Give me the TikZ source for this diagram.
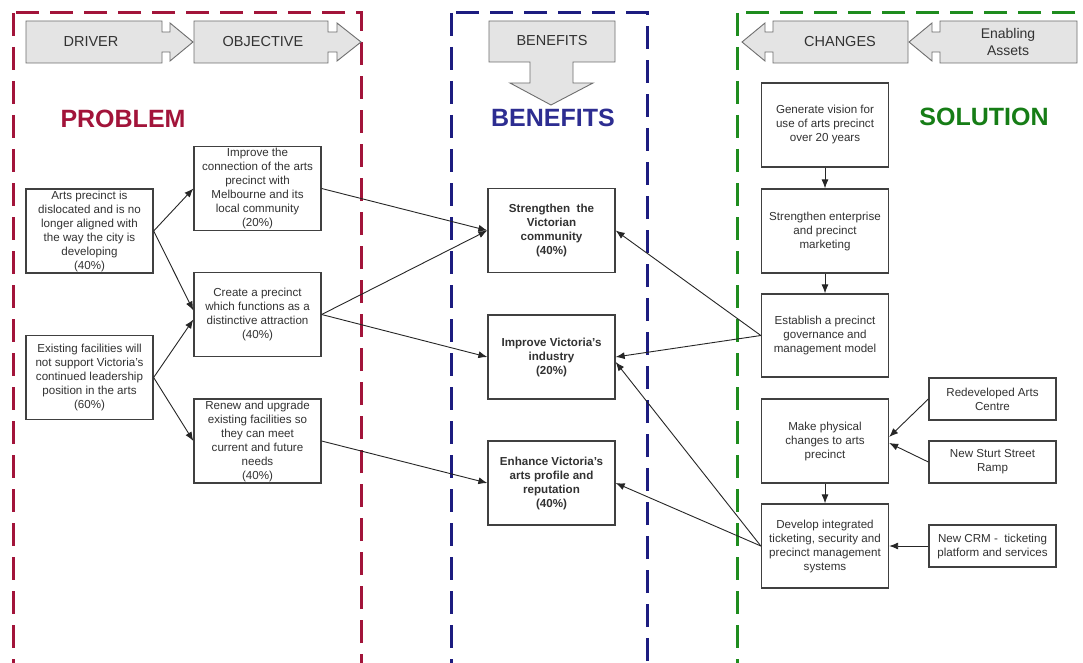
\documentclass[tikz,border=0pt]{standalone}
\usepackage{fontspec}
\setmainfont{Liberation Sans}
\usetikzlibrary{arrows.meta}
\definecolor{probred}{RGB}{162,20,58}
\definecolor{benblue}{RGB}{28,28,128}
\definecolor{solgreen}{RGB}{30,140,30}
\definecolor{bentext}{RGB}{45,45,145}
\definecolor{soltext}{RGB}{22,125,22}
\definecolor{txt}{RGB}{50,50,50}
\definecolor{hdrfill}{RGB}{228,228,228}
\definecolor{hdrline}{RGB}{110,110,110}
\tikzset{
  frame/.style={line width=3pt, dash pattern=on 23pt off 11pt},
  hdr/.style={fill=hdrfill, draw=hdrline, line width=0.9pt, line join=miter},
  hdrtext/.style={text=txt, font=\fontsize{14.5}{16}\selectfont, align=center, inner sep=0pt},
  box/.style={draw=black!75, line width=1.3pt, fill=white, text=txt, minimum width=127pt,
    minimum height=84pt, inner sep=0pt, align=center, font=\fontsize{11.6}{14}\selectfont},
  smallbox/.style={box, minimum height=42pt},
  bbox/.style={box, font=\bfseries\fontsize{11.6}{14}\selectfont},
  title/.style={font=\bfseries\fontsize{25}{28}\selectfont, inner sep=0pt},
  conn/.style={draw=black!85, line width=0.9pt, -{Latex[length=9pt,width=7pt]}}
}
\begin{document}
\begin{tikzpicture}[x=1pt,y=-1pt]
\useasboundingbox (0,0) rectangle (1083,663);
\clip (0,0) rectangle (1083,663);
\fill[white] (0,0) rectangle (1083,663);

% frames
\draw[frame, probred] (13,13) rectangle (361,664);
\draw[frame, benblue] (451,13) rectangle (647,664);
\draw[frame, solgreen] (737,13) rectangle (1088,664);

% header arrows
\draw[hdr] (26,21) -- (162,21) -- (162,32) -- (170,32) -- (170,23) -- (193,42) -- (170,61) -- (170,52) -- (162,52) -- (162,63) -- (26,63) -- cycle;
\node[hdrtext] (tdriver) at (91,42) {DRIVER};
\draw[hdr] (194,21) -- (328,21) -- (328,32) -- (337,32) -- (337,23) -- (361,42) -- (337,61) -- (337,52) -- (328,52) -- (328,63) -- (194,63) -- cycle;
\node[hdrtext] (tobj) at (263,42) {OBJECTIVE};
\draw[hdr] (489,21) -- (615,21) -- (615,62) -- (573,62) -- (573,83) -- (593,83) -- (551,105) -- (510,83) -- (530,83) -- (530,62) -- (489,62) -- cycle;
\node[hdrtext] (tben) at (552,41) {BENEFITS};
\draw[hdr] (908,21) -- (773,21) -- (773,32) -- (765,32) -- (765,23) -- (742,42) -- (765,61) -- (765,52) -- (773,52) -- (773,63) -- (908,63) -- cycle;
\node[hdrtext] (tchg) at (840,42) {CHANGES};
\draw[hdr] (1077,21) -- (940,21) -- (940,32) -- (932,32) -- (932,23) -- (909,42) -- (932,61) -- (932,52) -- (940,52) -- (940,63) -- (1077,63) -- cycle;
\node[hdrtext, font=\fontsize{14}{17}\selectfont] (tena) at (1008,42) {Enabling\\Assets};

% titles
\node[title, text=probred] (problem) at (123,119) {PROBLEM};
\node[title, text=bentext] (benefits) at (553,118) {BENEFITS};
\node[title, text=soltext] (solution) at (984,117) {SOLUTION};

% problem column
\node[box] (A) at (89.5,231) {Arts precinct is\\dislocated and is no\\longer aligned with\\the way the city is\\developing\\(40\%)};
\node[box] (B) at (89.5,377.5) {Existing facilities will\\not support Victoria's\\continued leadership\\position in the arts\\(60\%)};

% objective column
\node[box] (O1) at (257.5,188.5) {Improve the\\connection of the arts\\precinct with\\Melbourne and its\\local community\\(20\%)};
\node[box] (O2) at (257.5,314.5) {Create a precinct\\which functions as a\\distinctive attraction\\(40\%)};
\node[box] (O3) at (257.5,441) {Renew and upgrade\\existing facilities so\\they can meet\\current and future\\needs\\(40\%)};

% benefits column
\node[bbox] (BN1) at (551.5,230.5) {Strengthen\ \ the\\Victorian\\community\\(40\%)};
\node[bbox] (BN2) at (551.5,357) {Improve Victoria's\\industry\\(20\%)};
\node[bbox] (BN3) at (551.5,483) {Enhance Victoria's\\arts profile and\\reputation\\(40\%)};

% solution column
\node[box] (S1) at (825,125) {Generate vision for\\use of arts precinct\\over 20 years};
\node[box] (S2) at (825,231) {Strengthen enterprise\\and precinct\\marketing};
\node[box, minimum height=83pt] (S3) at (825,335.5) {Establish a precinct\\governance and\\management model};
\node[box] (S4) at (825,441) {Make physical\\changes to arts\\precinct};
\node[box] (S5) at (825,546) {Develop integrated\\ticketing, security and\\precinct management\\systems};

% enabling assets
\node[smallbox] (R1) at (992.5,399) {Redeveloped Arts\\Centre};
\node[smallbox] (R2) at (992.5,462) {New Sturt Street\\Ramp};
\node[smallbox] (R3) at (992.5,546) {New CRM -\ \ ticketing\\platform and services};

% connectors
\draw[conn] (A.east) -- (O1.west);
\draw[conn] (A.east) -- ([yshift=4pt]O2.west);
\draw[conn] (B.east) -- ([yshift=-5pt]O2.west);
\draw[conn] (B.east) -- (O3.west);
\draw[conn] (O1.east) -- (BN1.west);
\draw[conn] (O2.east) -- (BN1.west);
\draw[conn] (O2.east) -- (BN2.west);
\draw[conn] (O3.east) -- (BN3.west);
\draw[conn] (S3.west) -- (BN1.east);
\draw[conn] (S3.west) -- (BN2.east);
\draw[conn] (S5.west) -- ([yshift=-5pt]BN2.east);
\draw[conn] (S5.west) -- (BN3.east);
\draw[conn] (S1.south) -- (S2.north);
\draw[conn] (S2.south) -- (S3.north);
\draw[conn] (S4.south) -- (S5.north);
\draw[conn] (R1.west) -- ([yshift=4pt]S4.east);
\draw[conn] (R2.west) -- ([yshift=-2pt]S4.east);
\draw[conn] (R3.west) -- (S5.east);
\end{tikzpicture}
\end{document}
